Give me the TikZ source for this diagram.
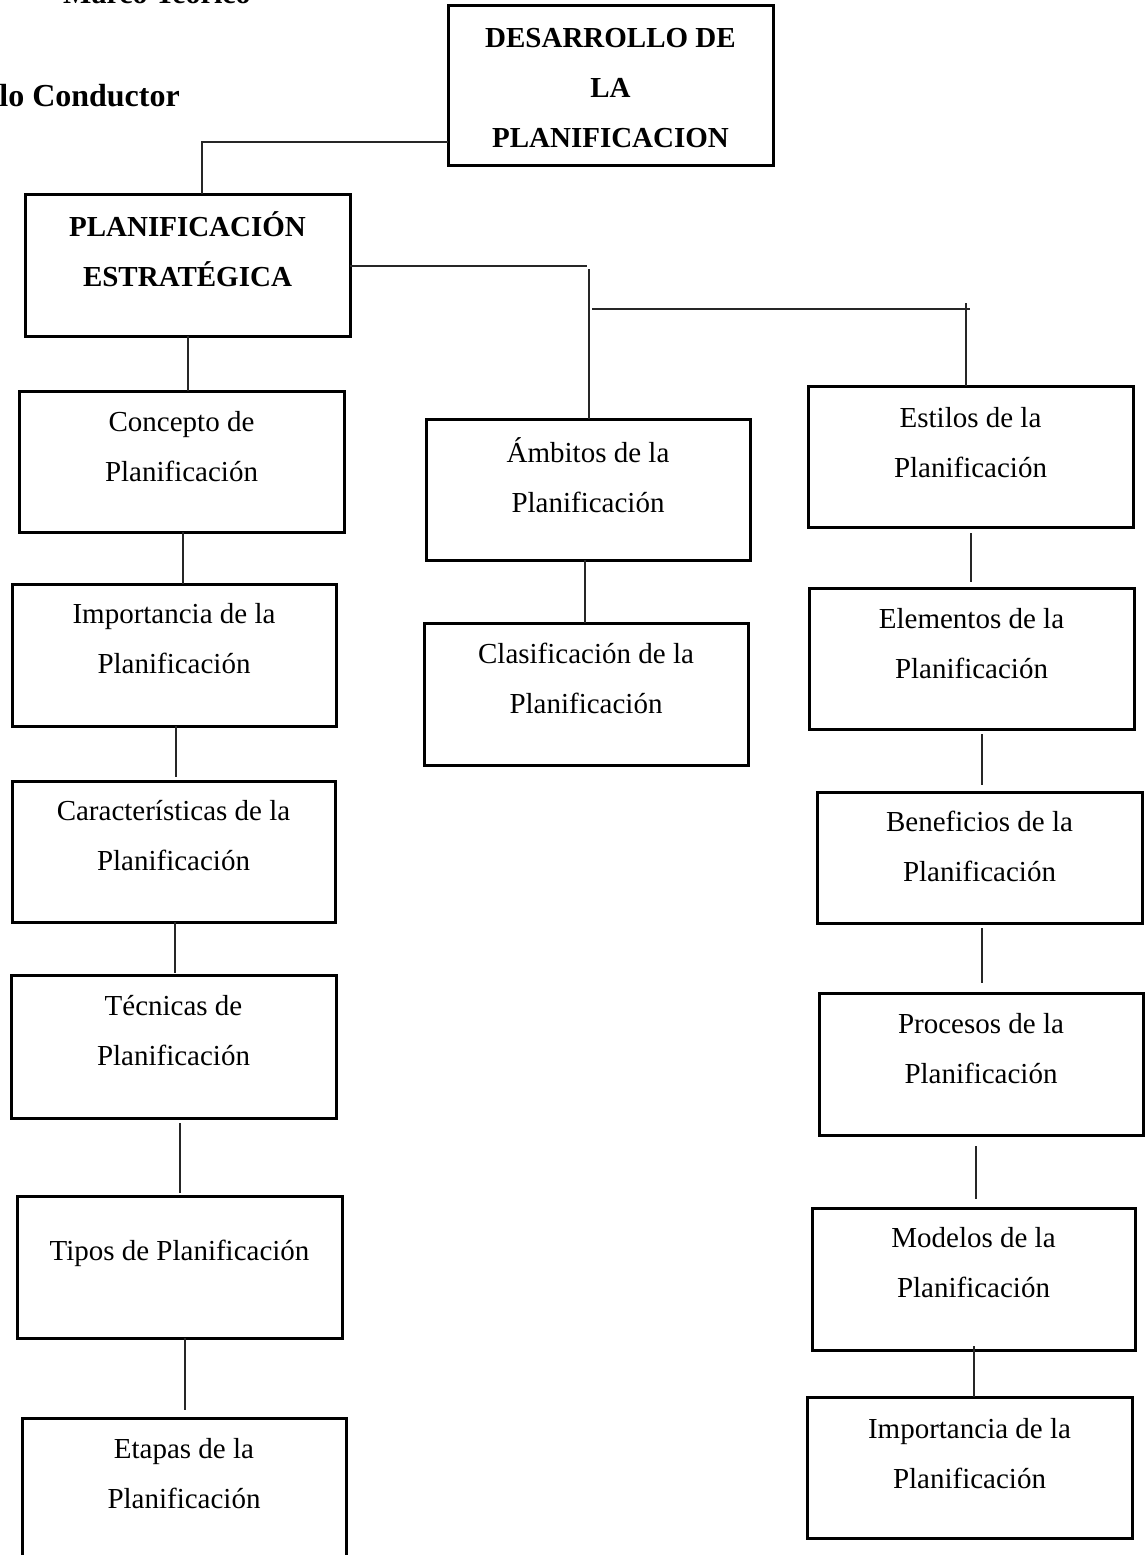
\documentclass[tikz,border=0pt]{standalone}
\usepackage{fontspec}
\setmainfont{Liberation Serif}

% box with its text block: name, x1, y1, x2, y2, text, drop of the text from the top edge
\newcommand{\caja}[7]{%
  \node[caja, minimum width={(#4-#2)*1pt}, minimum height={(#5-#3)*1pt}] (#1) at (#2,#3) {};
  \node[texto] (#1t) at ([yshift=-#7pt]#1.north) {\rule{0pt}{22pt}#6};
}

\begin{document}
\begin{tikzpicture}[x=1pt,y=-1pt,
  caja/.style={draw, line width=3pt, inner sep=0pt, outer sep=0pt, anchor=north west},
  texto/.style={anchor=north, align=center, inner sep=0pt, font=\fontsize{29}{50}\selectfont},
  titulo/.style={inner sep=0pt, font=\fontsize{30}{50}\selectfont\bfseries},
  linea/.style={line width=1.3pt, draw=black!85}]
\useasboundingbox (0,0) rectangle (1146,1555);

% headings
\node[titulo, anchor=base west] (marco) at (63,4) {Marco Teórico};
\node[titulo, anchor=base east, font=\fontsize{32}{50}\selectfont\bfseries] (hilo) at (180,106) {Hilo Conductor};

% top of the tree
\caja{des}{448}{6}{773}{165}{\bfseries DESARROLLO DE\\ \bfseries LA\\ \bfseries PLANIFICACION}{19}
\caja{pe}{25}{194}{350}{336}{\bfseries PLANIFICACIÓN\\ \bfseries ESTRATÉGICA}{17}

% left column
\caja{con}{19}{391}{344}{532}{Concepto de\\Planificación}{18}
\caja{imp}{12}{584}{336}{726}{Importancia de la\\Planificación}{17}
\caja{car}{12}{781}{335}{922}{Características de la\\Planificación}{17}
\caja{tec}{11}{975}{336}{1118}{Técnicas de\\Planificación}{18}
\caja{tip}{17}{1196}{342}{1338}{Tipos de Planificación}{42}
\caja{eta}{22}{1418}{346}{1600}{Etapas de la\\Planificación}{18}

% middle column
\caja{amb}{426}{419}{750}{560}{Ámbitos de la\\Planificación}{18}
\caja{cla}{424}{623}{748}{765}{Clasificación de la\\Planificación}{18}

% right column
\caja{est}{808}{386}{1133}{527}{Estilos de la\\Planificación}{19}
\caja{ele}{809}{588}{1134}{729}{Elementos de la\\Planificación}{18}
\caja{ben}{817}{792}{1142}{923}{Beneficios de la\\Planificación}{17}
\caja{pro}{819}{993}{1143}{1135}{Procesos de la\\Planificación}{18}
\caja{mod}{812}{1208}{1135}{1350}{Modelos de la\\Planificación}{17}
\caja{imr}{807}{1397}{1132}{1538}{Importancia de la\\Planificación}{19}

% branch points
\coordinate (r1) at (587,266);
\coordinate (r2) at (589,269);
\coordinate (r3) at (592,309);
\coordinate (r4) at (970,309);
\coordinate (r5) at (966,303);

% connectors
\draw[linea] (des.west |- 0,142) -- (202,142) -- (202,0 |- pe.north);
\draw[linea] (pe.east |- 0,266) -- (r1);
\draw[linea] (r2) -- (589,0 |- amb.north);
\draw[linea] (r3) -- (r4);
\draw[linea] (r5) -- (966,0 |- est.north);

\draw[linea] (188,0 |- pe.south) -- (188,0 |- con.north);
\draw[linea] (183,0 |- con.south) -- (183,0 |- imp.north);
\draw[linea, shorten >=4pt] (176,0 |- imp.south) -- (176,0 |- car.north);
\draw[linea, shorten >=2pt] (175,0 |- car.south) -- (175,0 |- tec.north);
\draw[linea, shorten <=5pt, shorten >=3pt] (180,0 |- tec.south) -- (180,0 |- tip.north);
\draw[linea, shorten >=8pt] (185,0 |- tip.south) -- (185,0 |- eta.north);

\draw[linea] (585,0 |- amb.south) -- (585,0 |- cla.north);

\draw[linea, shorten <=6pt, shorten >=6pt] (971,0 |- est.south) -- (971,0 |- ele.north);
\draw[linea, shorten <=5pt, shorten >=7pt] (982,0 |- ele.south) -- (982,0 |- ben.north);
\draw[linea, shorten <=5pt, shorten >=10pt] (982,0 |- ben.south) -- (982,0 |- pro.north);
\draw[linea, shorten <=11pt, shorten >=9pt] (976,0 |- pro.south) -- (976,0 |- mod.north);
\draw[linea] (974,1346) -- (974,0 |- imr.north);
\end{tikzpicture}
\end{document}
